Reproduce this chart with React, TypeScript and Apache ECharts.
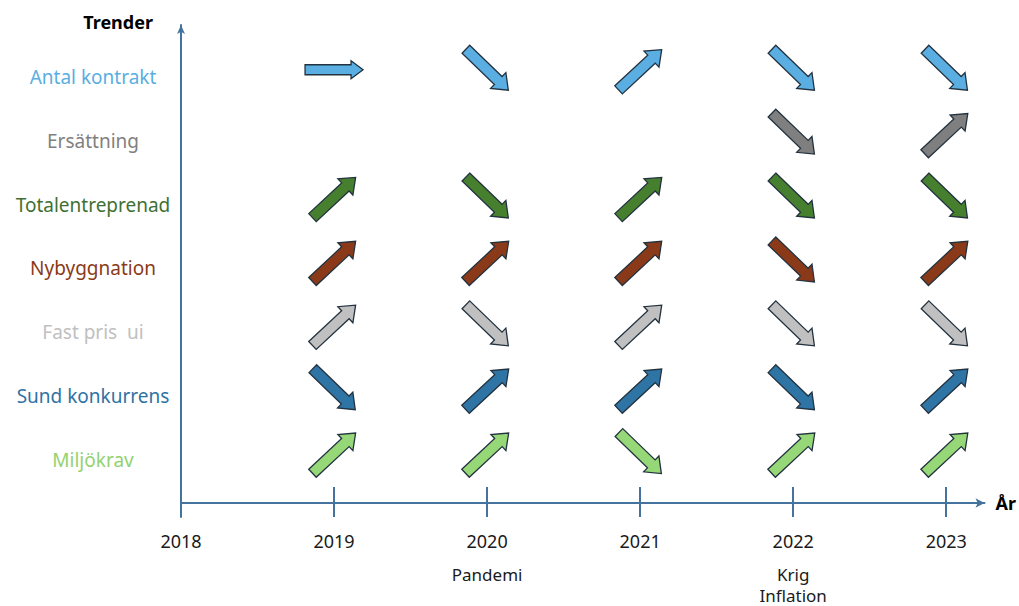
import React, { useEffect, useRef } from "react";
import * as echarts from "echarts";

// ---- data ----
const categories = [
  "Antal kontrakt",
  "Ersättning",
  "Totalentreprenad",
  "Nybyggnation",
  "Fast pris  ui",
  "Sund konkurrens",
  "Miljökrav",
];
const years = [2019, 2020, 2021, 2022, 2023];
const yearLabels = [2018, 2019, 2020, 2021, 2022, 2023];
// trend: 1 = upp, -1 = ned, 0 = oförändrad, null = saknas
const antalKontrakt = [0, -1, 1, -1, -1];
const ersattning = [null, null, null, -1, 1];
const totalentreprenad = [1, -1, 1, -1, -1];
const nybyggnation = [1, 1, 1, -1, 1];
const fastPris = [1, -1, 1, -1, -1];
const sundKonkurrens = [-1, 1, 1, -1, 1];
const miljokrav = [1, 1, -1, 1, 1];
const trends = [antalKontrakt, ersattning, totalentreprenad, nybyggnation, fastPris, sundKonkurrens, miljokrav];
const eventYears = [2020, 2022];
const eventTexts = [["Pandemi"], ["Krig", "Inflation"]];

// ---- styles ----
const arrowColors = ["#5aaee2", "#7f7f7f", "#46802f", "#8a3a18", "#c0c0c0", "#2e74a5", "#96d877"];
const labelColors = ["#5aaee2", "#808080", "#3f7033", "#8a3a18", "#c0c0c0", "#2e72a3", "#93d26f"];
const axisColor = "#44739e";
const FONT = "Noto Sans, Liberation Sans, sans-serif";

function arrowPoints(cx: number, cy: number, dir: number) {
  const flat = dir === 0;
  const L = flat ? 58 : 59;
  const w = flat ? 5 : 5.5;
  const h = flat ? 9 : 11;
  const hl = flat ? 12 : 14;
  const a = flat ? 0 : dir > 0 ? (-43 * Math.PI) / 180 : (44 * Math.PI) / 180;
  const loc = [
    [-L / 2, -w],
    [L / 2 - hl, -w],
    [L / 2 - hl, -h],
    [L / 2, 0],
    [L / 2 - hl, h],
    [L / 2 - hl, w],
    [-L / 2, w],
  ];
  const c = Math.cos(a);
  const s = Math.sin(a);
  return loc.map(([u, v]) => [cx + u * c - v * s, cy + u * s + v * c]);
}

export default function App() {
  const ref = useRef<HTMLDivElement>(null);
  useEffect(() => {
    const chart = echarts.init(ref.current!, null, { renderer: "svg" });
    const n = categories.length;
    const rich: any = {};
    labelColors.forEach((c, i) => {
      rich["c" + i] = { color: c, fontSize: 19, fontFamily: FONT };
    });
    const series = categories.map((name, i) => ({
      type: "custom",
      name,
      itemStyle: { color: arrowColors[i] },
      data: trends[i]
        .map((t, j) => (t === null ? null : [years[j], n - i, t]))
        .filter((d) => d !== null),
      renderItem: (params: any, api: any) => {
        const p = api.coord([api.value(0), api.value(1)]);
        const pts = arrowPoints(p[0], p[1], api.value(2));
        return {
          type: "polygon",
          shape: { points: pts },
          style: { fill: api.visual("color"), stroke: "#23323f", lineWidth: 1.3 },
        };
      },
    }));
    const xMin = 2018;
    const xMax = 2023.25;
    chart.setOption({
      animation: false,
      backgroundColor: "#ffffff",
      grid: { left: 181, right: 34, top: 25, bottom: 89, containLabel: false },
      xAxis: [
        {
          type: "value",
          min: xMin,
          max: xMax,
          position: "bottom",
          offset: -14,
          name: "År",
          nameLocation: "end",
          nameGap: 11,
          nameTextStyle: { color: "#000", fontSize: 18, fontWeight: "bold", fontFamily: FONT },
          axisLine: {
            show: true,
            onZero: false,
            symbol: ["none", "arrow"],
            symbolSize: [7, 9],
            lineStyle: { color: axisColor, width: 2 },
          },
          axisTick: {
            show: true,
            inside: true,
            length: 16,
            customValues: years,
            lineStyle: { color: axisColor, width: 2 },
          },
          axisLabel: {
            show: true,
            customValues: yearLabels,
            margin: 15,
            formatter: (v: number) => {
              const y = Math.round(v);
              const k = eventYears.indexOf(y);
              const ev = k >= 0 ? eventTexts[k].map((t) => "\n{e|" + t + "}").join("") : "";
              return "{y|" + y + "}" + ev;
            },
            rich: {
              y: { fontSize: 18, color: "#1a1a1a", lineHeight: 46, fontFamily: FONT },
              e: { fontSize: 17, color: "#1a1a1a", lineHeight: 21, fontFamily: FONT },
            },
          },
          splitLine: { show: false },
        },
        {
          type: "value",
          min: xMin,
          max: xMax,
          position: "bottom",
          offset: -14,
          axisLine: { show: false, onZero: false },
          axisTick: {
            show: true,
            inside: false,
            length: 14,
            customValues: years,
            lineStyle: { color: axisColor, width: 2 },
          },
          axisLabel: { show: false },
          splitLine: { show: false },
        },
      ],
      yAxis: {
        type: "value",
        min: 0,
        max: 7.7,
        name: "Trender",
        nameLocation: "end",
        nameGap: -6,
        nameTextStyle: {
          color: "#000",
          fontSize: 18,
          fontWeight: "bold",
          fontFamily: FONT,
          align: "right",
          verticalAlign: "bottom",
          padding: [0, 28, 0, 0],
        },
        axisLine: {
          show: true,
          symbol: ["none", "arrow"],
          symbolSize: [6, 9],
          lineStyle: { color: axisColor, width: 2 },
        },
        axisTick: { show: false },
        splitLine: { show: false },
        axisLabel: {
          show: true,
          customValues: [1, 2, 3, 4, 5, 6, 7],
          margin: 88,
          align: "center",
          padding: [14, 0, 0, 0],
          formatter: (v: number) => {
            const i = n - Math.round(v);
            return "{c" + i + "|" + categories[i] + "}";
          },
          rich,
        },
      },
      series,
    });
    return () => chart.dispose();
  }, []);
  return (
    <div
      ref={ref}
      style={{ position: "fixed", left: 0, top: 0, width: 1019, height: 606, background: "#fff" }}
    />
  );
}
